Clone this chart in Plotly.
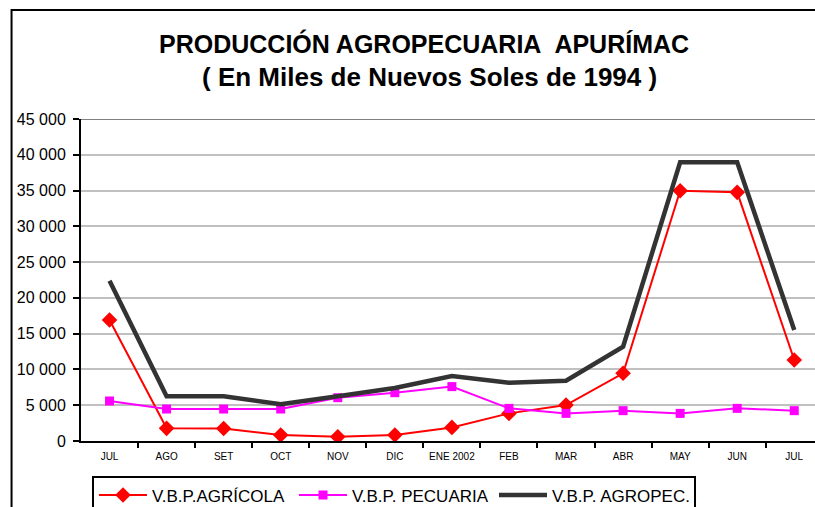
import plotly.graph_objects as go

months = ["JUL", "AGO", "SET", "OCT", "NOV", "DIC", "ENE 2002", "FEB", "MAR", "ABR", "MAY", "JUN", "JUL"]
agricola = [16900, 1770, 1750, 840, 600, 840, 1900, 3860, 5030, 9460, 34980, 34750, 11320]
pecuaria = [5590, 4470, 4470, 4470, 6050, 6750, 7600, 4560, 3860, 4240, 3860, 4560, 4240]
agropec = [22400, 6250, 6250, 5150, 6250, 7400, 9080, 8150, 8430, 13180, 38950, 38950, 15500]
y_ticks = [0, 5000, 10000, 15000, 20000, 25000, 30000, 35000, 40000, 45000]
y_tick_text = ["0", "5 000", "10 000", "15 000", "20 000", "25 000", "30 000", "35 000", "40 000", "45 000"]

FONT = "Liberation Sans, Arial, sans-serif"
xs = list(range(len(months)))

fig = go.Figure()
fig.add_trace(go.Scatter(x=xs, y=agricola, name="V.B.P.AGRÍCOLA", mode="lines+markers",
                         line=dict(color="#FF0000", width=2),
                         marker=dict(symbol="diamond", size=12, color="#FF0000")))
fig.add_trace(go.Scatter(x=xs, y=pecuaria, name="V.B.P. PECUARIA", mode="lines+markers",
                         line=dict(color="#FF00FF", width=2),
                         marker=dict(symbol="square", size=9, color="#FF00FF")))
fig.add_trace(go.Scatter(x=xs, y=agropec, name="V.B.P. AGROPEC.", mode="lines",
                         line=dict(color="#333333", width=4.5)))

# plot area: x 80.5..815 px, y 119..441 px
L, R, T, B = 80.5, 815, 119, 441
W, H = 815, 507
def px(xp):
    return (xp - L) / (R - L)
def py(yp):
    return (B - yp) / (B - T)

fig.update_layout(
    width=W, height=H,
    margin=dict(l=L, r=W - R, t=T, b=H - B, pad=0),
    paper_bgcolor="white", plot_bgcolor="white",
    font=dict(family=FONT, color="black"),
    showlegend=True,
    legend=dict(orientation="h", xref="container", yref="container",
                x=92 / W, y=1 - 475.5 / H, xanchor="left", yanchor="top",
                bordercolor="black", borderwidth=2, bgcolor="white",
                font=dict(size=17, family=FONT, color="black"),
                itemwidth=48,
                entrywidth=137, entrywidthmode="pixels",
                tracegroupgap=0),
    xaxis=dict(range=[-0.5, -0.5 + (R - L) / 57.1], tickmode="array", tickvals=xs, ticktext=months,
               ticks="", showgrid=False, zeroline=False,
               showline=True, linecolor="black", linewidth=2,
               tickfont=dict(size=10, family=FONT, color="black"),
               ticklabelstandoff=5,
               minor=dict(tickmode="array", tickvals=[i + 0.5 for i in range(12)],
                          ticks="outside", ticklen=5, tickcolor="black", tickwidth=1.5,
                          showgrid=False)),
    yaxis=dict(range=[0, 45000], tickmode="array", tickvals=y_ticks, ticktext=y_tick_text,
               ticks="outside", ticklen=6, tickwidth=2, tickcolor="black",
               showgrid=True, gridcolor="#C0C0C0", gridwidth=2, zeroline=False,
               showline=True, linecolor="black", linewidth=2,
               tickfont=dict(size=16, family=FONT, color="black"),
               ticklabelstandoff=4),
    annotations=[
        dict(text="<b>PRODUCCIÓN AGROPECUARIA&nbsp; APURÍMAC</b>", xref="paper", yref="paper",
             x=px(423.5), y=py(44), xanchor="center", yanchor="middle", showarrow=False,
             font=dict(size=25, family=FONT, color="black")),
        dict(text="<b>( En Miles de Nuevos Soles de 1994 )</b>", xref="paper", yref="paper",
             x=px(429), y=py(77), xanchor="center", yanchor="middle", showarrow=False,
             font=dict(size=26, family=FONT, color="black")),
    ],
    shapes=[
        dict(type="line", xref="paper", yref="y", x0=0, x1=1, y0=45000, y1=45000,
             line=dict(color="#808080", width=2), layer="above"),
        dict(type="rect", xref="paper", yref="paper", x0=px(11), x1=px(830), y0=py(10), y1=py(520),
             line=dict(color="black", width=2), fillcolor="rgba(0,0,0,0)", layer="above"),
    ],
)

fig.write_html("out.html", config={"displayModeBar": False},
               post_script="document.body.style.margin='0';document.body.style.overflow='hidden';")
